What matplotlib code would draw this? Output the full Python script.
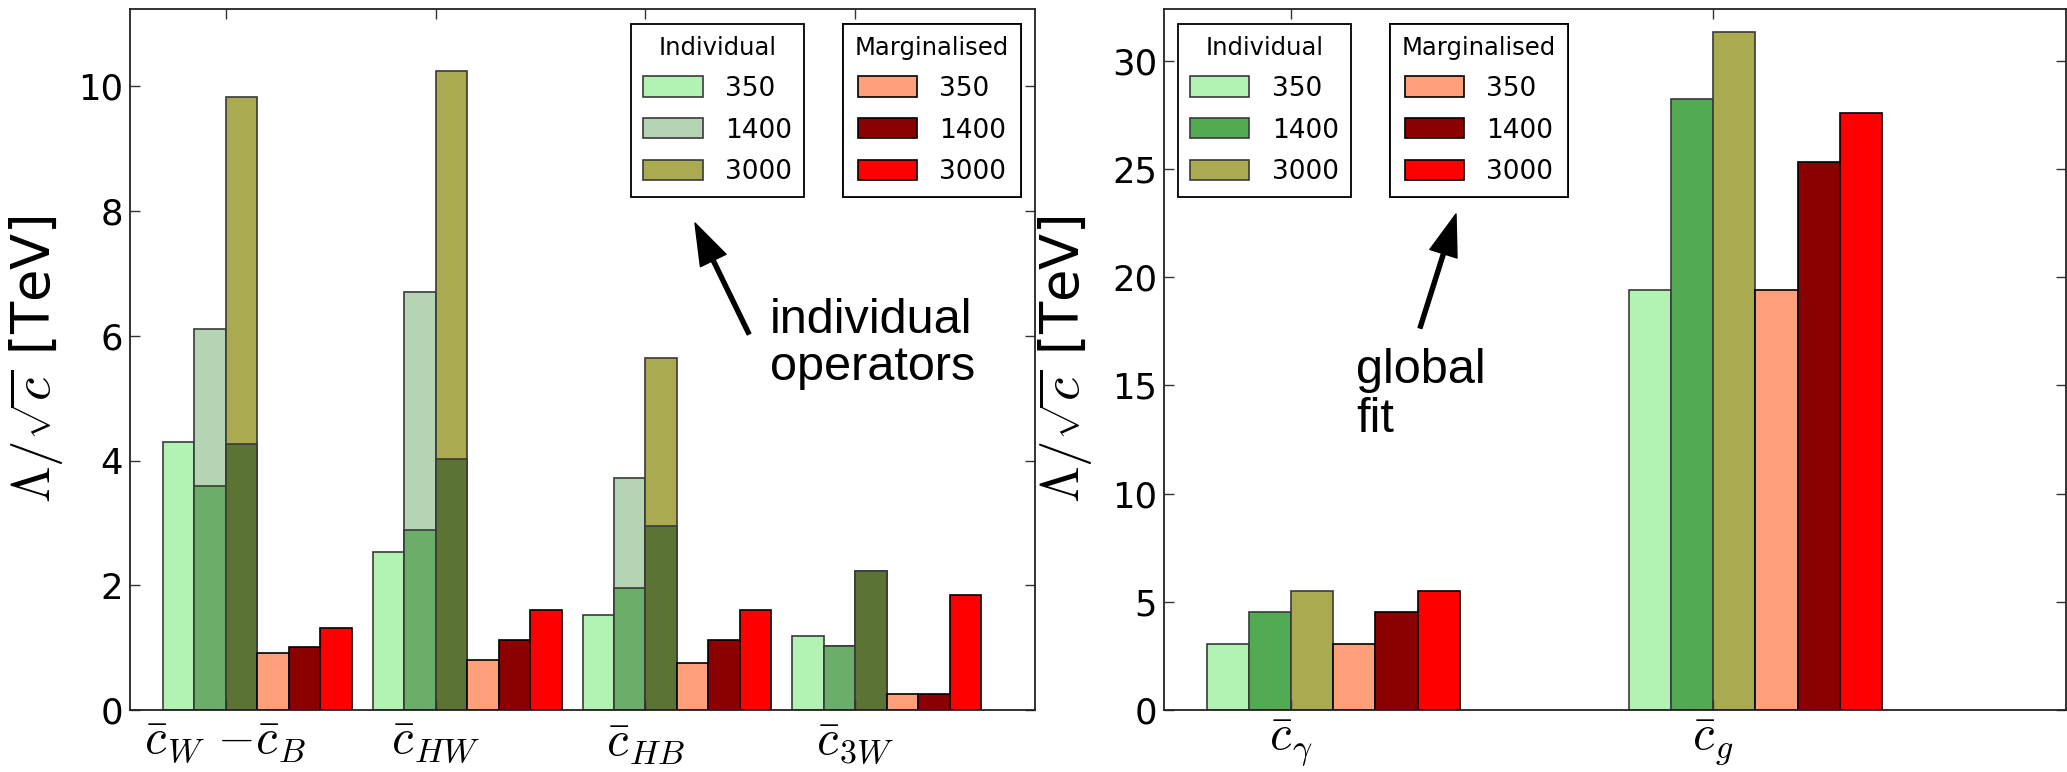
import matplotlib
matplotlib.use("Agg")
import matplotlib.pyplot as plt
from matplotlib.patches import Patch

plt.rcParams['font.family'] = ['DejaVu Sans']
plt.rcParams['mathtext.fontset'] = 'cm'

# ---------------- data ----------------
left_labels = [r'$\bar{c}_W$ $-\bar{c}_B$', r'$\bar{c}_{HW}$', r'$\bar{c}_{HB}$', r'$\bar{c}_{3W}$']
ind350_L = [4.29, 2.53, 1.53, 1.19]
ind1400_L = [6.11, 6.70, 3.72, 1.03]
ind1400_L_inner = [3.59, 2.89, 1.95, 1.03]
ind3000_L = [9.83, 10.24, 5.65, 2.23]
ind3000_L_inner = [4.27, 4.03, 2.95, 2.23]
marg350_L = [0.91, 0.80, 0.75, 0.25]
marg1400_L = [1.01, 1.13, 1.13, 0.25]
marg3000_L = [1.32, 1.60, 1.60, 1.85]

right_labels = [r'$\bar{c}_\gamma$', r'$\bar{c}_g$']
ind350_R = [3.03, 19.42]
ind1400_R = [4.52, 28.25]
ind3000_R = [5.52, 31.35]
marg350_R = [3.03, 19.42]
marg1400_R = [4.52, 25.30]
marg3000_R = [5.52, 27.58]

energies = ['350', '1400', '3000']

# ---------------- style ----------------
C_LG = '#b2f2b2'
C_PALE = '#b4d4b4'
C_MIDG = '#6aae6a'
C_G = '#52aa52'
C_OL = '#aaaa50'
C_DOL = '#5b7333'
C_SAL = '#ffa07a'
C_DR = '#8b0000'
C_R = '#ff0000'
EG = '#3a3a3a'

W, H = 2067, 772
fig = plt.figure(figsize=(W / 100, H / 100), dpi=100)
ax1 = fig.add_axes([130 / W, 1 - 710 / H, (1035 - 130) / W, (710 - 9) / H])
ax2 = fig.add_axes([1164 / W, 1 - 710 / H, (2066 - 1164) / W, (710 - 9) / H])


def style_axes(ax):
    for s in ax.spines.values():
        s.set_linewidth(1.3)
        s.set_color('#222222')
    ax.tick_params(direction='in', top=True, right=True, length=7, width=1.0,
                   labelsize=25.5, pad=5, color='#333333')
    ax.tick_params(axis='x', labelsize=35, pad=6)


# ---- left panel ----
wL = 0.15
xL = list(range(len(left_labels)))


def pos(x, k, w):
    return [i + (k - 2) * w for i in x]


ax1.bar(pos(xL, 0, wL), ind350_L, wL, align='edge', color=C_LG, edgecolor=EG, lw=1.2)
ax1.bar(pos(xL, 1, wL), ind1400_L, wL, align='edge', color=C_PALE, edgecolor=EG, lw=1.2)
ax1.bar(pos(xL, 1, wL), ind1400_L_inner, wL, align='edge', color=C_MIDG, edgecolor=EG, lw=1.2)
ax1.bar(pos(xL, 2, wL), ind3000_L, wL, align='edge', color=C_OL, edgecolor=EG, lw=1.2)
ax1.bar(pos(xL, 2, wL), ind3000_L_inner, wL, align='edge', color=C_DOL, edgecolor=EG, lw=1.2)
ax1.bar(pos(xL, 3, wL), marg350_L, wL, align='edge', color=C_SAL, edgecolor='black', lw=1.2)
ax1.bar(pos(xL, 4, wL), marg1400_L, wL, align='edge', color=C_DR, edgecolor='black', lw=1.2)
ax1.bar(pos(xL, 5, wL), marg3000_L, wL, align='edge', color=C_R, edgecolor='black', lw=1.2)
ax1.set_xlim(-0.455, 3.855)
ax1.set_ylim(0, 11.24)
ax1.set_yticks([0, 2, 4, 6, 8, 10])
ax1.set_xticks(xL)
ax1.set_xticklabels(left_labels)
style_axes(ax1)
ax1.set_ylabel(r'$\Lambda/\sqrt{c}$ [TeV]', fontsize=38)
ax1.yaxis.set_label_coords((66 - 130) / 905, 0.5)

# ---- right panel ----
wR = 0.1
xR = list(range(len(right_labels)))
ax2.bar(pos(xR, 0, wR), ind350_R, wR, align='edge', color=C_LG, edgecolor=EG, lw=1.2)
ax2.bar(pos(xR, 1, wR), ind1400_R, wR, align='edge', color=C_G, edgecolor=EG, lw=1.2)
ax2.bar(pos(xR, 2, wR), ind3000_R, wR, align='edge', color=C_OL, edgecolor=EG, lw=1.2)
ax2.bar(pos(xR, 3, wR), marg350_R, wR, align='edge', color=C_SAL, edgecolor='black', lw=1.2)
ax2.bar(pos(xR, 4, wR), marg1400_R, wR, align='edge', color=C_DR, edgecolor='black', lw=1.2)
ax2.bar(pos(xR, 5, wR), marg3000_R, wR, align='edge', color=C_R, edgecolor='black', lw=1.2)
ax2.set_xlim(-0.301, 1.836)
ax2.set_ylim(0, 32.39)
ax2.set_yticks([0, 5, 10, 15, 20, 25, 30])
ax2.set_xticks(xR)
ax2.set_xticklabels(right_labels)
style_axes(ax2)
ax2.set_ylabel(r'$\Lambda/\sqrt{c}$ [TeV]', fontsize=38)
ax2.yaxis.set_label_coords((1095 - 1164) / 902, 0.5)


# ---- legends ----
def make_legend(ax, title, colors, edge, anchor_px, loc):
    handles = [Patch(facecolor=c, edgecolor=edge, lw=1.2) for c in colors]
    fx = anchor_px[0] / W
    fy = 1 - anchor_px[1] / H
    leg = ax.legend(handles, energies, title=title, loc=loc,
                    bbox_to_anchor=(fx, fy), bbox_transform=fig.transFigure,
                    fontsize=19, title_fontsize=17.5, fancybox=False,
                    edgecolor='black', framealpha=1, borderaxespad=0,
                    handlelength=2.25, handleheight=0.8, handletextpad=0.85,
                    labelspacing=0.6, borderpad=0.45)
    leg.get_frame().set_linewidth(1.3)
    ax.add_artist(leg)
    return leg


make_legend(ax1, 'Individual', [C_LG, C_PALE, C_OL], EG, (804, 24), 'upper right')
make_legend(ax1, 'Marginalised', [C_SAL, C_DR, C_R], 'black', (1021, 24), 'upper right')
make_legend(ax2, 'Individual', [C_LG, C_G, C_OL], EG, (1178, 24), 'upper left')
make_legend(ax2, 'Marginalised', [C_SAL, C_DR, C_R], 'black', (1390, 24), 'upper left')


# ---- annotations ----
def fp(x, y):
    return (x / W, 1 - y / H)


arrow_kw = dict(facecolor='black', edgecolor='black', width=2.9, headwidth=20.5,
                headlength=30, shrink=0)
fig.text(*fp(770, 298), 'individual\noperators', fontsize=35, family='Liberation Sans',
         va='top', ha='left', linespacing=1.05)
fig.text(*fp(1356, 348), 'global\nfit', fontsize=35, family='Liberation Sans',
         va='top', ha='left', linespacing=1.1)
fig.add_artist(plt.Annotation('', xy=fp(695, 223), xytext=fp(749, 334),
                              xycoords='figure fraction', textcoords='figure fraction',
                              arrowprops=arrow_kw))
fig.add_artist(plt.Annotation('', xy=fp(1456, 214), xytext=fp(1420, 328),
                              xycoords='figure fraction', textcoords='figure fraction',
                              arrowprops=arrow_kw))

fig.savefig('out.png', dpi=100)
